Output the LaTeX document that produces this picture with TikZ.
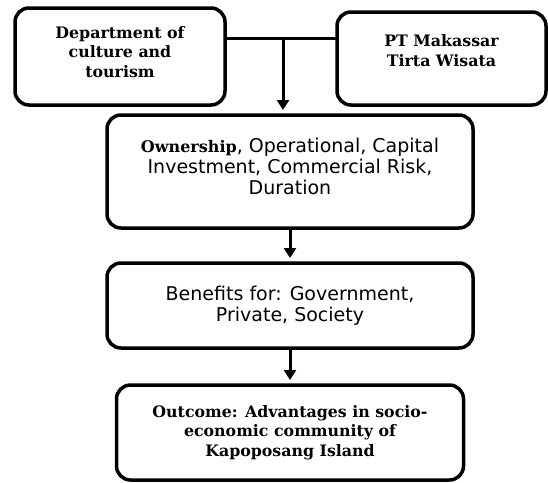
\documentclass[tikz,border=0pt]{standalone}
\usepackage{fontspec}
\setmainfont{DejaVu Serif}
\setsansfont{DejaVu Sans}
\usetikzlibrary{arrows.meta,positioning}
\tikzset{>={Triangle[length=10pt,width=12pt]},
	block/.style={% Rounded boxes of the flow chart
		draw, rectangle,
		rounded corners=14pt,
		line width=3.5pt,
		inner sep=0pt,
		outer sep=0pt,
		align=center
	},
	serif/.style={font=\rmfamily\bfseries\fontsize{15.8}{19.5}\selectfont},
	sans/.style={font=\sffamily\fontsize{19}{21}\selectfont},
	link/.style={line width=3pt}
}

\begin{document}
\begin{tikzpicture}[x=1pt, y=-1pt, every node/.style={block}]
		\useasboundingbox (0,0) rectangle (548,482);
		\node (A) [serif, text depth=10pt, minimum width=210pt, minimum height=97pt] at (120,56.5) {Department of\\culture and\\tourism};
		\node (B) [serif, text depth=16pt, minimum width=209pt, minimum height=93pt] at (441.5,58.5) {PT Makassar\\Tirta Wisata};
		\node (C) [sans, text depth=10pt, minimum width=366pt, minimum height=113pt] at (290,171.5)
		{{\rmfamily\bfseries\fontsize{16}{21}\selectfont Ownership}, Operational, Capital\\Investment, Commercial Risk,\\Duration};
		\node (D) [sans, below=35pt of C, minimum width=366pt, minimum height=85pt] {Benefits for: Government,\\Private, Society};
		\node (E) [serif, below=37pt of D, minimum width=347pt, minimum height=95pt] {Outcome: Advantages in socio-\\economic community of\\Kapoposang Island};
		
		% both partners join on one line, one arrow leads down
		\coordinate (J) at (283,38);
		\draw [link] (A.east |- J) -- (B.west |- J);
		\draw [link, ->, shorten >=5pt] (J) -- (C.north -| J);
		\draw [link, ->, shorten >=5pt] (C) -- (D);
		\draw [link, ->, shorten >=5pt] (D) -- (E);
	\end{tikzpicture}
\end{document}
